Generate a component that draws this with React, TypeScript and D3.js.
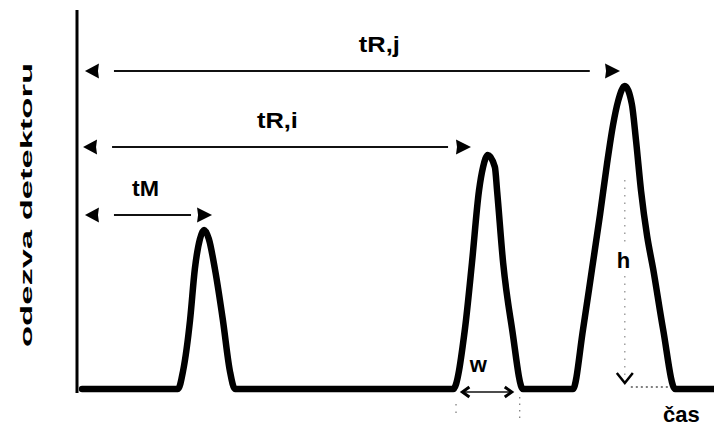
import React from "react";
import * as d3 from "d3";

// Chromatogram trace (time in min, detector response in arbitrary units)
const times = [
  0.16, 3.17, 3.33, 3.55, 3.70, 3.86, 3.99, 4.14, 4.33, 4.58, 4.80, 4.96,
  11.81, 12.18, 12.40, 12.62, 12.75, 12.90, 13.12, 13.19, 13.38, 13.66, 14.0,
  15.57, 15.89, 16.17, 16.42, 16.64, 16.83, 16.99, 17.20, 17.42, 17.55, 17.71, 17.90, 18.09, 18.40, 18.78, 20.0,
];
const responses = [
  0, 0, 6, 23, 40, 50, 53, 50, 40, 23, 6, 0,
  0, 20, 42, 66, 74, 78, 74, 66, 42, 20, 0,
  0, 20, 40, 58, 75, 88, 96, 101, 95, 83, 66, 51, 40, 20, 0, 0,
];

// Retention-time arrows
const arrowLabels = ["tR,j", "tR,i", "tM"];
const arrowLevels = [106, 80.7, 58];
const arrowStart = [0.25, 0.19, 0.25];
const arrowLineEnd = [16.1, 11.65, 3.58];
const arrowTip = [17.05, 12.37, 4.24];
const labelTime = [8.85, 5.65, 1.73];

// Peak width / height annotation (peak i width, peak j height)
const widthFrom = 12.1;
const widthTo = 13.65;
const widthGuides = [11.9, 13.9];
const heightPeakTime = 17.2;
const heightPeakValue = 101;
const heightBaseEnd = 18.7;

const axisTitle = "odezva detektoru";
const timeTitle = "čas";

export default function App() {
  const W = 714;
  const H = 426;
  const x = d3.scaleLinear().domain([0, 20]).range([77, 714]);
  const y = d3.scaleLinear().domain([0, 100]).range([389, 89]);

  const pts: [number, number][] = times.map((t, i) => [t, responses[i]]);
  const line = d3
    .line<[number, number]>()
    .x((d) => x(d[0]))
    .y((d) => y(d[1]))
    .curve(d3.curveMonotoneX);

  const font = "'Liberation Sans', Arial, sans-serif";

  const leftHead = (tx: number, ty: number) =>
    `M${tx},${ty} L${tx + 14},${ty - 7.5} L${tx + 13},${ty} L${tx + 14},${ty + 7.5} Z`;
  const rightHead = (tx: number, ty: number) =>
    `M${tx},${ty} L${tx - 15},${ty - 7.5} L${tx - 14},${ty} L${tx - 15},${ty + 7.5} Z`;

  const hx = x(heightPeakTime);
  const wy = 392;

  return (
    <svg
      width={W}
      height={H}
      style={{ position: "absolute", left: 0, top: 0, background: "#fff" }}
      fontFamily={font}
    >
      {/* y axis */}
      <line x1={77} x2={77} y1={10} y2={393} stroke="#000" strokeWidth={3} />

      {/* axis title */}
      <text
        transform={`translate(32,205) rotate(-90)`}
        textAnchor="middle"
        fontSize={17}
        fontWeight="bold"
        textLength={284}
        lengthAdjust="spacingAndGlyphs"
        fill="#000"
      >
        {axisTitle}
      </text>

      {/* chromatogram */}
      <path
        d={line(pts) || ""}
        fill="none"
        stroke="#000"
        strokeWidth={6.5}
        strokeLinejoin="round"
        strokeLinecap="round"
      />

      {/* retention time arrows */}
      {arrowLabels.map((lab, i) => {
        const yy = y(arrowLevels[i]);
        return (
          <g key={lab}>
            <path d={leftHead(x(arrowStart[i]), yy)} fill="#000" />
            <line
              x1={x(arrowStart[i]) + 29}
              x2={x(arrowLineEnd[i])}
              y1={yy}
              y2={yy}
              stroke="#111"
              strokeWidth={2}
            />
            <path d={rightHead(x(arrowTip[i]), yy)} fill="#000" />
            <text
              x={x(labelTime[i])}
              y={yy - 19}
              fontSize={22}
              fontWeight="bold"
              textLength={lab === "tM" ? 27 : 41}
              lengthAdjust="spacingAndGlyphs"
              fill="#000"
            >
              {lab}
            </text>
          </g>
        );
      })}

      {/* height annotation */}
      <line x1={hx} x2={hx} y1={y(heightPeakValue) + 94} y2={245} stroke="#888" strokeWidth={1.2} strokeDasharray="1.5 6" />
      <line x1={hx} x2={hx} y1={276} y2={380} stroke="#888" strokeWidth={1.2} strokeDasharray="1.5 6" />
      <path d={`M${hx - 8},${373} L${hx},${383} L${hx + 8},${373}`} fill="none" stroke="#000" strokeWidth={2.5} />
      <line x1={hx + 6} x2={x(heightBaseEnd) - 4} y1={387} y2={387} stroke="#555" strokeWidth={1.5} strokeDasharray="2 3" />
      <text x={hx - 8} y={268} fontSize={22} fontWeight="bold" fill="#000">
        h
      </text>

      {/* width annotation */}
      <line x1={x(widthFrom) + 2} x2={x(widthTo) - 2} y1={wy} y2={wy} stroke="#111" strokeWidth={1.6} />
      <path d={`M${x(widthFrom) + 7},${wy - 5} L${x(widthFrom)},${wy} L${x(widthFrom) + 7},${wy + 5}`} fill="none" stroke="#000" strokeWidth={3} />
      <path d={`M${x(widthTo) - 7},${wy - 5} L${x(widthTo)},${wy} L${x(widthTo) - 7},${wy + 5}`} fill="none" stroke="#000" strokeWidth={3} />
      <line x1={x(widthGuides[0])} x2={x(widthGuides[0])} y1={404} y2={418} stroke="#777" strokeWidth={1.2} strokeDasharray="1.5 6" />
      <line x1={x(widthGuides[1])} x2={x(widthGuides[1])} y1={397} y2={421} stroke="#777" strokeWidth={1.2} strokeDasharray="1.5 5" />
      <text x={x(12.6)} y={372} fontSize={22} fontWeight="bold" fill="#000" textAnchor="middle">
        w
      </text>

      {/* time label */}
      <text x={x(18.4)} y={422} fontSize={22} fontWeight="bold" fill="#000">
        {timeTitle}
      </text>
    </svg>
  );
}
